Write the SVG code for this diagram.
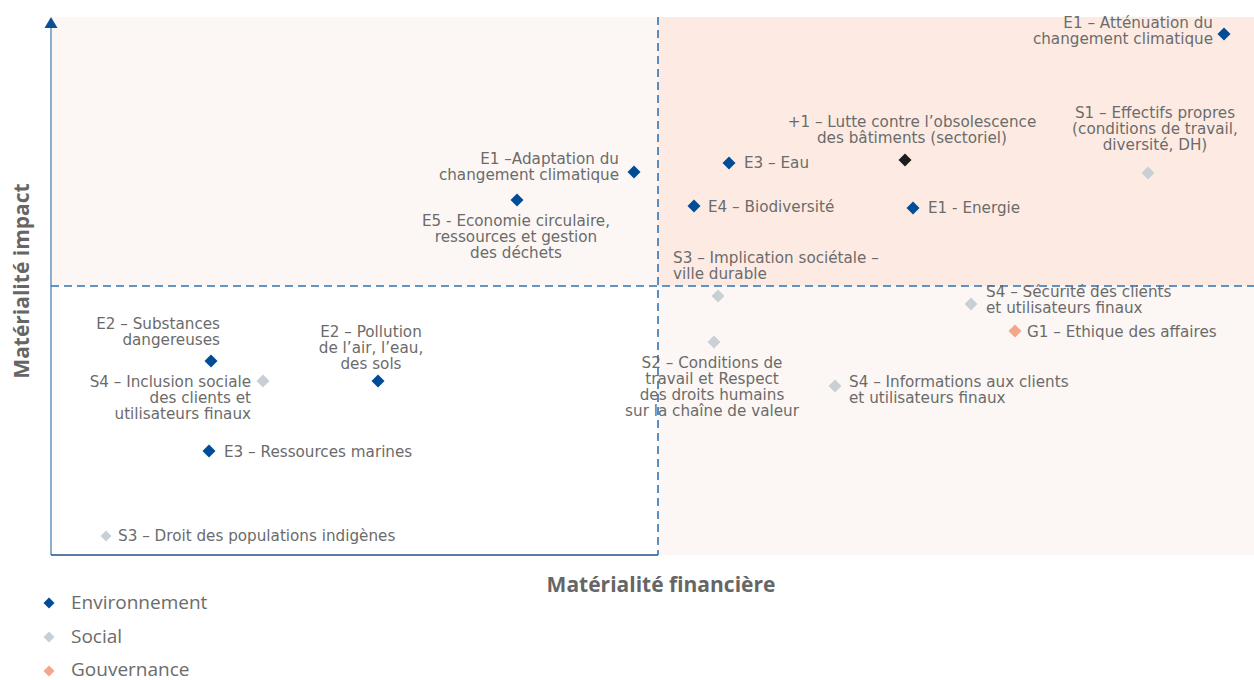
<svg xmlns="http://www.w3.org/2000/svg" xmlns:xlink="http://www.w3.org/1999/xlink" width="1254" height="680" viewBox="0 0 1254 680">
  <style>
    .lbl { font-family: "DejaVu Sans", "Open Sans", sans-serif; font-size: 15.2px; fill: #6b6b6b; }
    .end { text-anchor: end; }
    .mid { text-anchor: middle; }
    .axis-title { font-family: "Open Sans", "Liberation Sans", sans-serif; font-size: 21px; font-weight: 700; fill: #666666; }
    .legend { font-family: "Open Sans", "Liberation Sans", sans-serif; font-size: 19px; fill: #6b6b6b; }
    .env { fill: #004c97; }
    .soc { fill: #c9d0d5; }
    .gov { fill: #f4a688; }
    .sec { fill: #1c1c1c; }
    .divider { stroke: #2f74b5; stroke-width: 1.6; stroke-dasharray: 8 5; fill: none; }
  </style>
  <defs>
    <path id="dia" d="M0,-6.5 L6.5,0 L0,6.5 L-6.5,0 Z"/>
    <path id="dia-s" d="M0,-5.5 L5.5,0 L0,5.5 L-5.5,0 Z"/>
  </defs>

  <rect width="1254" height="680" fill="#ffffff"/>

  <!-- quadrant backgrounds -->
  <g id="quadrants">
    <rect x="51" y="17" width="607" height="269" fill="#fcf7f4"/>
    <rect x="658" y="17" width="596" height="269" fill="#fdebe3"/>
    <rect x="658" y="286" width="596" height="269" fill="#fcf7f4"/>
  </g>

  <!-- axes and quadrant dividers -->
  <g id="connectors">
    <line x1="51" y1="26" x2="51" y2="555" stroke="#6e9bc8" stroke-width="1.6"/>
    <path d="M44.5,28 L51,17 L57.5,28 Z" fill="#0b4f94"/>
    <line x1="51" y1="555" x2="658" y2="555" stroke="#1f5287" stroke-width="1.4"/>
    <line class="divider" x1="51" y1="286" x2="1254" y2="286"/>
    <line class="divider" x1="658" y1="17" x2="658" y2="555"/>
  </g>

  <!-- axis titles -->
  <text class="axis-title mid" transform="translate(29,281) rotate(-90)">Matérialité impact</text>
  <text class="axis-title mid" x="661" y="592">Matérialité financière</text>

  <!-- top-right quadrant -->
  <g id="e1-attenuation">
    <use xlink:href="#dia" x="1224" y="34" class="env"/>
    <text class="lbl end" x="1213" y="28">E1 – Atténuation du</text>
    <text class="lbl end" x="1213" y="44">changement climatique</text>
  </g>
  <g id="plus1-obsolescence">
    <use xlink:href="#dia" x="905" y="160" class="sec"/>
    <text class="lbl mid" x="912" y="127">+1 – Lutte contre l’obsolescence</text>
    <text class="lbl mid" x="912" y="143">des bâtiments (sectoriel)</text>
  </g>
  <g id="s1-effectifs">
    <use xlink:href="#dia" x="1148" y="173" class="soc"/>
    <text class="lbl mid" x="1155" y="118">S1 – Effectifs propres</text>
    <text class="lbl mid" x="1155" y="134">(conditions de travail,</text>
    <text class="lbl mid" x="1155" y="150">diversité, DH)</text>
  </g>
  <g id="e3-eau">
    <use xlink:href="#dia" x="729" y="163" class="env"/>
    <text class="lbl" x="744" y="168">E3 – Eau</text>
  </g>
  <g id="e4-biodiversite">
    <use xlink:href="#dia" x="694" y="206" class="env"/>
    <text class="lbl" x="708" y="212">E4 – Biodiversité</text>
  </g>
  <g id="e1-energie">
    <use xlink:href="#dia" x="913" y="208" class="env"/>
    <text class="lbl" x="928" y="213">E1 - Energie</text>
  </g>
  <g id="s3-implication">
    <use xlink:href="#dia" x="718" y="296" class="soc"/>
    <text class="lbl" x="673" y="263">S3 – Implication sociétale –</text>
    <text class="lbl" x="673" y="279">ville durable</text>
  </g>

  <!-- top-left quadrant -->
  <g id="e1-adaptation">
    <use xlink:href="#dia" x="634" y="172" class="env"/>
    <text class="lbl end" x="619" y="164">E1 –Adaptation du</text>
    <text class="lbl end" x="619" y="180">changement climatique</text>
  </g>
  <g id="e5-economie">
    <use xlink:href="#dia" x="517" y="200" class="env"/>
    <text class="lbl mid" x="516" y="226">E5 - Economie circulaire,</text>
    <text class="lbl mid" x="516" y="242">ressources et gestion</text>
    <text class="lbl mid" x="516" y="258">des déchets</text>
  </g>

  <!-- bottom-right quadrant -->
  <g id="s2-conditions">
    <use xlink:href="#dia" x="714" y="342" class="soc"/>
    <text class="lbl mid" x="712" y="368">S2 – Conditions de</text>
    <text class="lbl mid" x="712" y="384">travail et Respect</text>
    <text class="lbl mid" x="712" y="400">des droits humains</text>
    <text class="lbl mid" x="712" y="416">sur la chaîne de valeur</text>
  </g>
  <g id="s4-informations">
    <use xlink:href="#dia" x="835" y="386" class="soc"/>
    <text class="lbl" x="849" y="387">S4 – Informations aux clients</text>
    <text class="lbl" x="849" y="403">et utilisateurs finaux</text>
  </g>
  <g id="s4-securite">
    <use xlink:href="#dia" x="971" y="304" class="soc"/>
    <text class="lbl" x="986" y="297">S4 – Sécurité des clients</text>
    <text class="lbl" x="986" y="313">et utilisateurs finaux</text>
  </g>
  <g id="g1-ethique">
    <use xlink:href="#dia" x="1015" y="331" class="gov"/>
    <text class="lbl" x="1027" y="337">G1 – Ethique des affaires</text>
  </g>

  <!-- bottom-left quadrant -->
  <g id="e2-substances">
    <use xlink:href="#dia" x="211" y="361" class="env"/>
    <text class="lbl end" x="220" y="329">E2 – Substances</text>
    <text class="lbl end" x="220" y="345">dangereuses</text>
  </g>
  <g id="s4-inclusion">
    <use xlink:href="#dia" x="263" y="381" class="soc"/>
    <text class="lbl end" x="251" y="387">S4 – Inclusion sociale</text>
    <text class="lbl end" x="251" y="403">des clients et</text>
    <text class="lbl end" x="251" y="419">utilisateurs finaux</text>
  </g>
  <g id="e2-pollution">
    <use xlink:href="#dia" x="378" y="381" class="env"/>
    <text class="lbl mid" x="371" y="337">E2 – Pollution</text>
    <text class="lbl mid" x="371" y="353">de l’air, l’eau,</text>
    <text class="lbl mid" x="371" y="369">des sols</text>
  </g>
  <g id="e3-marines">
    <use xlink:href="#dia" x="209" y="451" class="env"/>
    <text class="lbl" x="224" y="457">E3 – Ressources marines</text>
  </g>
  <g id="s3-droit">
    <use xlink:href="#dia-s" x="106" y="536" class="soc"/>
    <text class="lbl" x="118" y="541">S3 – Droit des populations indigènes</text>
  </g>

  <!-- legend -->
  <g id="legend">
    <use xlink:href="#dia-s" x="49" y="603" class="env"/>
    <text class="legend" x="71" y="608.5">Environnement</text>
    <use xlink:href="#dia-s" x="49" y="637" class="soc"/>
    <text class="legend" x="71" y="642.5">Social</text>
    <use xlink:href="#dia-s" x="49" y="671" class="gov"/>
    <text class="legend" x="71" y="675.5">Gouvernance</text>
  </g>
</svg>
